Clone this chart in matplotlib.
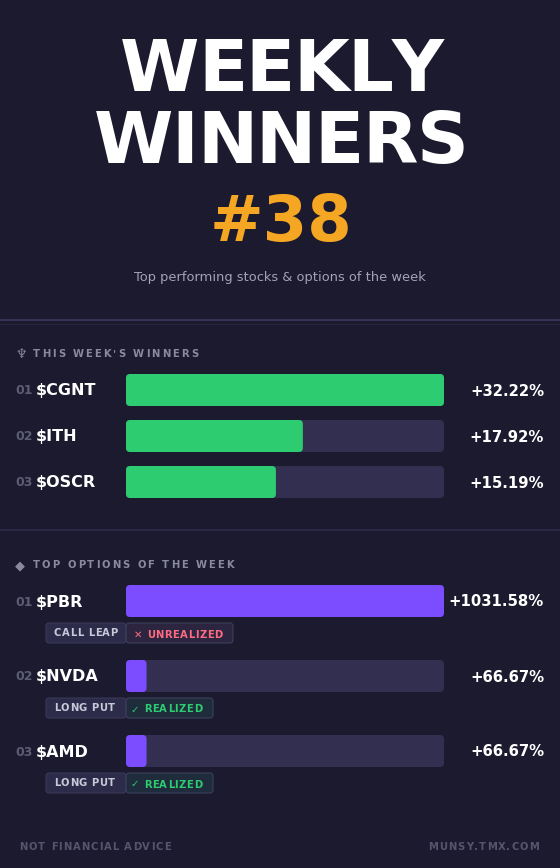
import matplotlib
matplotlib.use("Agg")
import matplotlib.pyplot as plt
from matplotlib import font_manager as fm
from matplotlib.ft2font import LoadFlags
from matplotlib.patches import FancyBboxPatch
from matplotlib.text import Text
from matplotlib.transforms import IdentityTransform

W, H = 560, 868
BG = "#1c1a2e"
TRACK = "#332f50"
GREEN = "#2ecc71"
PURPLE = "#7c4dff"
ORANGE = "#f5a623"

title_lines = ["WEEKLY", "WINNERS"]
issue = "#38"
subtitle = "Top performing stocks & options of the week"

winner_tickers = ["$CGNT", "$ITH", "$OSCR"]
winner_values = [32.22, 17.92, 15.19]
option_tickers = ["$PBR", "$NVDA", "$AMD"]
option_values = [1031.58, 66.67, 66.67]
option_types = ["CALL LEAP", "LONG PUT", "LONG PUT"]
option_status = ["✕ UNREALIZED", "✓ REALIZED", "✓ REALIZED"]
ranks = ["01", "02", "03"]
winners_header = "THIS WEEK'S WINNERS"
options_header = "TOP OPTIONS OF THE WEEK"
footer_left = "NOT FINANCIAL ADVICE"
footer_right = "MUNSY.TMX.COM"

fig = plt.figure(figsize=(W / 100, H / 100), dpi=100, facecolor=BG)
bg = fig.add_axes([0, 0, 1, 1])
bg.set_xlim(0, W)
bg.set_ylim(H, 0)
bg.axis("off")


class SpacedText(Text):
    """One text whose letters are drawn with extra tracking (in pixels), unkerned."""
    tracking = 0.0

    def advances(self):
        fp = self.get_fontproperties()
        font = fm.get_font(fm.findfont(fp))
        font.set_size(fp.get_size_in_points(), 100)
        return [font.load_char(ord(c), flags=LoadFlags.NO_HINTING).linearHoriAdvance / 65536 + self.tracking
                for c in self.get_text()]

    def draw(self, renderer):
        if not self.get_visible():
            return
        adv = self.advances()
        total = sum(adv) - self.tracking
        x, y = self.get_transform().transform(self.get_position())
        x -= {"center": total / 2, "right": total}.get(self.get_ha(), 0)
        for c, a in zip(self.get_text(), adv):
            if c != " ":
                t = Text(x, y, c, fontproperties=self.get_fontproperties(), color=self.get_color(),
                         ha="left", va=self.get_va(), figure=self.figure)
                t.set_transform(IdentityTransform())
                t.draw(renderer)
            x += a


def px(v):
    return v * 72 / 100


def label(x, y, s, size, color, weight="normal", ha="left", tracking=None, va="center_baseline"):
    if tracking is not None:
        t = SpacedText(x, y, s, fontsize=px(size), color=color, fontweight=weight, ha=ha, va=va,
                       family="DejaVu Sans")
        t.tracking = tracking
        bg.add_artist(t)
        return t
    return bg.text(x, y, s, fontsize=px(size), color=color, fontweight=weight, ha=ha, va=va,
                   family="DejaVu Sans")


def pill(x0, y0, x1, y1, face, edge, r=3):
    bg.add_patch(FancyBboxPatch((x0, y0), x1 - x0, y1 - y0, boxstyle=f"round,pad=0,rounding_size={r}",
                                facecolor=face, edgecolor=edge, linewidth=0.8, zorder=2))


def bar_panel(values, top, pitch, color, vmax):
    """Axes spans the bar column; x is in value units, y in rows."""
    height_px = 32
    left, right = 126, 444
    n = len(values)
    ax = fig.add_axes([left / W, 1 - (top + pitch * (n - 1) + height_px) / H, (right - left) / W,
                       (pitch * (n - 1) + height_px) / H])
    ax.set_xlim(0, vmax)
    ax.set_ylim(pitch * (n - 1) + height_px, 0)
    ax.axis("off")
    ax.patch.set_alpha(0)
    xu = vmax / (right - left)  # value units per pixel
    ys = [pitch * i + height_px / 2 for i in range(n)]
    for bars, col, z in ((ax.barh(ys, [vmax] * n, height=height_px), TRACK, 1),
                         (ax.barh(ys, values, height=height_px), color, 2)):
        for rect in bars:
            rect.set_visible(False)
            ax.add_patch(FancyBboxPatch((rect.get_x(), rect.get_y()), rect.get_width(), rect.get_height(),
                                        boxstyle=f"round,pad=0,rounding_size={4 * xu}",
                                        mutation_aspect=1 / xu, facecolor=col, edgecolor="none", zorder=z,
                                        clip_on=False))


# Title block
label(282, 91, title_lines[0], 72, "#ffffff", "bold", "center", tracking=-1.6, va="baseline")
label(281, 163, title_lines[1], 72, "#ffffff", "bold", "center", tracking=-1.4, va="baseline")
label(281, 241, issue, 64, ORANGE, "bold", "center", va="baseline")
label(280, 276, subtitle, 13, "#a3a3b5", ha="center")

# Dividers
for y, c in ((320, "#3a3760"), (530, "#2f2c4c")):
    bg.plot([0, W], [y, y], color=c, lw=1.2, solid_capstyle="butt")
bg.plot([0, W], [324, 324], color="#262440", lw=0.8)

# Section: winners
label(15.5, 353, "♆", 13, "#8a8a9e", "bold")
label(33, 353, winners_header, 10, "#8a8a9e", "bold", tracking=2.0)
bar_panel(winner_values, 374, 46, GREEN, max(winner_values))
for i, (tk, v) in enumerate(zip(winner_tickers, winner_values)):
    y = 389.5 + 46 * i
    label(15, y, ranks[i], 12.5, "#5c5c72", "bold")
    label(36, y, tk, 16, "#ffffff", "bold")
    label(544, y, f"+{v:.2f}%", 14.9, "#ffffff", "bold", "right")

# Section: options
label(15, 564, "◆", 13, "#8a8a9e", "bold")
label(33, 564, options_header, 10, "#8a8a9e", "bold", tracking=2.0)
bar_panel(option_values, 585, 75, PURPLE, max(option_values))
status_x0 = [134, 131, 131]
status_x1 = [233, 213, 213]
status_col = ["#ff6b81", "#2ecc71", "#2ecc71"]
status_face = ["#2b2540", "#1e2c3c", "#1e2c3c"]
for i, (tk, v) in enumerate(zip(option_tickers, option_values)):
    y = 600.5 + 75 * i
    label(15, y, ranks[i], 12.5, "#5c5c72", "bold")
    label(36, y, tk, 16, "#ffffff", "bold")
    label(544, y, f"+{v:.2f}%", 14.9, "#ffffff", "bold", "right")
    py = y + 32.5
    pill(46, py - 10, 126, py + 10, "#2d2b4a", "#3a3858")
    label(54, py - 1, option_types[i], 10, "#c8c8d8", "bold", tracking=0.5)
    pill(126, py - 10, status_x1[i], py + 10, status_face[i], "#3f3f5c")
    label(status_x0[i], py + 0.5, option_status[i], 10, status_col[i], "bold", tracking=0.5)

# Footer
label(19.5, 846, footer_left, 10, "#55556b", "bold", tracking=1.0)
label(539, 846, footer_right, 10, "#55556b", "bold", "right", tracking=1.0)

fig.savefig("out.png", dpi=100, facecolor=BG)
